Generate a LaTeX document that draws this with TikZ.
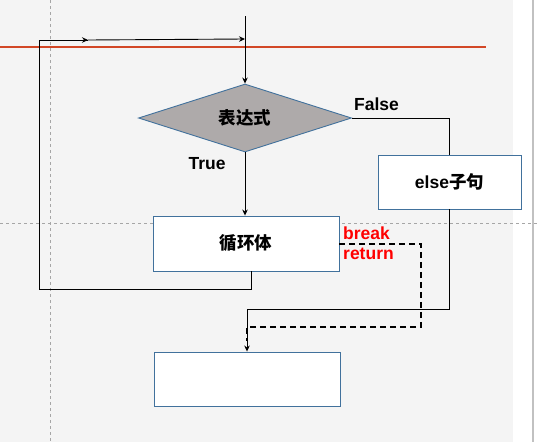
\documentclass[tikz,border=0pt]{standalone}
\usepackage{fontspec}
\setmainfont{Liberation Sans}
\newfontfamily\cjk{Noto Sans CJK SC}
\usetikzlibrary{shapes.geometric,arrows.meta}

\definecolor{bggray}{HTML}{F4F4F4}
\definecolor{guidegray}{HTML}{A6A6A6}
\definecolor{rulered}{HTML}{D24726}
\definecolor{boxblue}{HTML}{41719C}
\definecolor{decfill}{HTML}{AEAAAA}

\tikzset{
  box/.style={draw=boxblue, fill=white, line width=0.9pt, inner sep=0pt},
  decision/.style={diamond, draw=boxblue, fill=decfill, line width=0.9pt,
    inner sep=0pt, aspect=3.13, minimum width=213pt, minimum height=68pt},
  lbl/.style={font=\fontsize{17.5}{19}\selectfont\bfseries, inner sep=0pt},
  redlbl/.style={lbl, text=red, anchor=west},
  flow/.style={line width=0.9pt},
  arrow/.style={flow, -{Stealth[length=6pt,width=5.5pt]}},
  jump/.style={line width=2pt, dash pattern=on 6pt off 4pt}
}

\begin{document}
\begin{tikzpicture}[x=1pt,y=-1pt]
  % background and guides
  \useasboundingbox (0,0) rectangle (537,442);
  \fill[bggray] (0,0) rectangle (513,442);
  \draw[guidegray!70, line width=1.5pt] (533,0) -- (533,442);
  \draw[guidegray, line width=0.8pt, dash pattern=on 3pt off 3pt] (0,223) -- (537,223);
  \draw[guidegray, line width=0.8pt, dash pattern=on 3pt off 3pt] (50,0) -- (50,442);
  \draw[rulered, line width=2pt] (0,47) -- (486,47);

  % blocks
  \node[decision] (dec) at (245,118) {};
  \node[lbl] at (dec.center) {\cjk 表达式};
  \node[box, minimum width=186pt, minimum height=55pt] (body) at (246,243.5) {};
  \node[lbl] at (body.center) {\cjk 循环体};
  \node[box, minimum width=143pt, minimum height=54pt] (else) at (449.5,182) {};
  \node[lbl] at (else.center) {else{\cjk 子句}};
  \node[box, minimum width=186pt, minimum height=54pt] (next) at (247,379) {};

  % labels
  \node[lbl, anchor=west] (false) at (354,104) {False};
  \node[lbl] (true) at (207,164) {True};
  \node[redlbl] (break) at (343,233) {break};
  \node[redlbl] (return) at (343,254) {return};

  % connectors
  \coordinate (start) at (245,16);
  \coordinate (join) at (245,39);
  \coordinate (loopB) at (39,289);
  \coordinate (loopT) at (39,40);
  \coordinate (loopM) at (88,40);
  \coordinate (merge) at (247,309);
  \coordinate (dashA) at (421,327);
  \coordinate (dashB) at (247,327);

  \draw[arrow] (start) -- (dec.north);
  \draw[flow] ([xshift=5pt]body.south) |- (loopB) -- (loopT) -- (loopM);
  \draw[arrow] (loopT) -- (loopM);
  \draw[arrow] (loopM) -- (join);
  \draw[arrow] (dec.south) -- (dec.south |- body.north);
  \draw[flow] (dec.east) -| (else.north);
  \draw[flow] (else.south) |- (merge);
  \draw[arrow] (merge) -- (next.north);
  \draw[jump] (body.east) -| (dashA) -- (dashB) -- ++(0,14);
\end{tikzpicture}
\end{document}
